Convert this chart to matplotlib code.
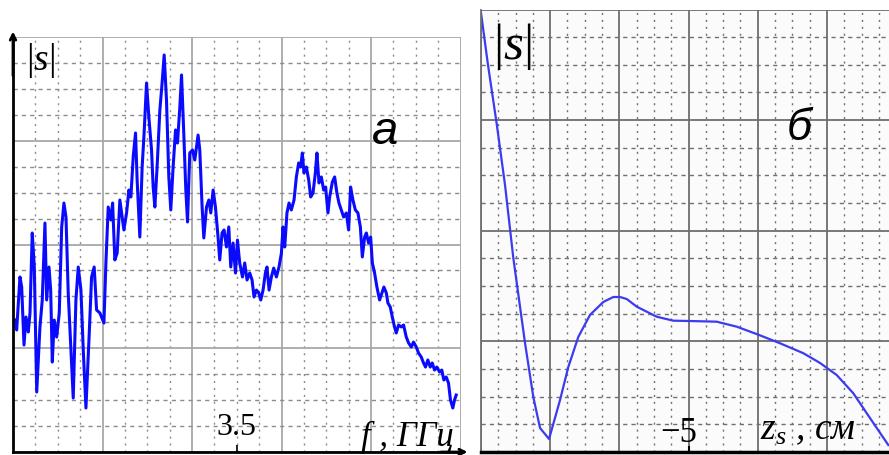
import matplotlib
matplotlib.use("Agg")
import matplotlib.pyplot as plt
from matplotlib.ticker import MultipleLocator

plt.rcParams['font.family'] = ['Liberation Serif', 'DejaVu Serif']
plt.rcParams['mathtext.fontset'] = 'custom'
plt.rcParams['mathtext.rm'] = 'Liberation Serif'
plt.rcParams['mathtext.it'] = 'Liberation Serif:italic'

# panel a: spectrum |s|(f), f in GHz
freq = [1.022, 1.041, 1.078, 1.097, 1.123, 1.145, 1.171, 1.190, 1.215, 1.238,
        1.265, 1.301, 1.327, 1.357, 1.376, 1.402, 1.421, 1.439, 1.461, 1.488,
        1.517, 1.544, 1.569, 1.592, 1.617, 1.647, 1.673, 1.703, 1.729, 1.759,
        1.785, 1.815, 1.852, 1.878, 1.907, 1.934, 1.971, 2.016, 2.038, 2.064,
        2.094, 2.113, 2.138, 2.164, 2.194, 2.220, 2.239, 2.269, 2.295, 2.317,
        2.343, 2.369, 2.387, 2.417, 2.443, 2.465, 2.492, 2.518, 2.548, 2.566,
        2.585, 2.610, 2.641, 2.666, 2.689, 2.715, 2.741, 2.763, 2.789, 2.816,
        2.838, 2.864, 2.883, 2.908, 2.931, 2.950, 2.975, 3.006, 3.031, 3.068,
        3.087, 3.113, 3.132, 3.162, 3.188, 3.210, 3.236, 3.262, 3.291, 3.310,
        3.336, 3.358, 3.385, 3.411, 3.433, 3.459, 3.486, 3.508, 3.533, 3.564,
        3.589, 3.615, 3.645, 3.671, 3.693, 3.720, 3.746, 3.768, 3.794, 3.820,
        3.838, 3.861, 3.887, 3.913, 3.943, 3.972, 3.999, 4.017, 4.036, 4.061,
        4.084, 4.110, 4.140, 4.166, 4.192, 4.214, 4.233, 4.251, 4.278, 4.304,
        4.326, 4.352, 4.378, 4.396, 4.419, 4.445, 4.471, 4.493, 4.519, 4.538,
        4.568, 4.594, 4.619, 4.642, 4.668, 4.694, 4.724, 4.750, 4.772, 4.798,
        4.825, 4.854, 4.881, 4.903, 4.929, 4.948, 4.973, 4.996, 5.015, 5.040,
        5.066, 5.096, 5.122, 5.144, 5.171, 5.189, 5.215, 5.238, 5.263, 5.282,
        5.308, 5.338, 5.364, 5.394, 5.420, 5.450, 5.475, 5.506, 5.531, 5.561,
        5.587, 5.609, 5.635, 5.662, 5.684, 5.710, 5.736, 5.766, 5.791, 5.814,
        5.840, 5.866, 5.888, 5.914, 5.933, 5.952]
amp_f = [1.272, 1.176, 1.687, 1.590, 1.031, 1.301, 1.157, 1.340, 2.111, 1.783,
         0.578, 1.205, 1.465, 2.207, 1.465, 1.783, 1.561, 0.867, 1.272, 1.108,
         1.340, 2.169, 2.400, 2.265, 1.533, 0.983, 0.520, 1.465, 1.783, 1.561,
         0.983, 0.424, 1.147, 1.687, 1.783, 1.369, 1.340, 1.243, 1.822, 2.361,
         2.236, 2.400, 1.851, 1.918, 2.429, 2.265, 2.140, 2.304, 2.525, 2.458,
         2.843, 3.075, 2.622, 2.072, 2.747, 3.075, 3.557, 3.229, 2.911, 2.554,
         2.361, 2.747, 3.296, 3.557, 3.827, 3.393, 2.651, 2.333, 2.747, 3.104,
         2.978, 3.325, 3.634, 3.075, 2.525, 2.217, 2.882, 2.911, 2.814, 3.055,
         2.911, 2.361, 2.063, 2.361, 2.429, 2.304, 2.525, 2.361, 2.072, 1.851,
         2.111, 2.140, 1.976, 2.169, 1.783, 2.014, 1.725, 2.043, 1.822, 1.687,
         1.822, 1.658, 1.725, 1.658, 1.494, 1.561, 1.533, 1.465, 1.561, 1.725,
         1.783, 1.561, 1.687, 1.773, 1.687, 1.783, 1.918, 2.169, 1.976, 2.304,
         2.400, 2.333, 2.429, 2.651, 2.786, 2.747, 2.882, 2.689, 2.747, 2.622,
         2.458, 2.496, 2.689, 2.882, 2.593, 2.651, 2.525, 2.554, 2.304, 2.458,
         2.602, 2.651, 2.496, 2.400, 2.333, 2.265, 2.304, 2.140, 2.554, 2.429,
         2.333, 2.304, 2.169, 1.880, 2.072, 2.111, 2.014, 2.072, 1.822, 1.725,
         1.590, 1.465, 1.533, 1.590, 1.533, 1.436, 1.398, 1.301, 1.205, 1.147,
         1.224, 1.205, 1.224, 1.108, 1.051, 1.012, 1.060, 1.012, 0.954, 0.916,
         0.858, 0.819, 0.887, 0.819, 0.858, 0.790, 0.819, 0.771, 0.790, 0.694,
         0.723, 0.665, 0.501, 0.424, 0.501, 0.549]
f_tick = [3.5]
f_tick_labels = ['3.5']

# panel б: |s|(z_s), z_s in cm
z_s = [-8.000, -7.899, -7.773, -7.653, -7.533, -7.364, -7.244, -7.147, -7.017,
       -6.931, -6.858, -6.738, -6.594, -6.425, -6.233, -6.088, -5.991, -5.894,
       -5.750, -5.461, -5.221, -4.980, -4.594, -4.305, -4.007, -3.679, -3.342,
       -3.101, -2.860, -2.620, -2.379, -2.114]
amp_z = [3.969, 3.499, 2.966, 2.414, 1.754, 0.986, 0.497, 0.217, 0.118,
         0.307, 0.470, 0.769, 1.040, 1.239, 1.356, 1.401, 1.401, 1.383,
         1.314, 1.223, 1.187, 1.184, 1.178, 1.133, 1.064, 0.983, 0.893,
         0.805, 0.696, 0.531, 0.307, 0.063]
z_tick = [-5]
z_tick_labels = ['\u22125']


def grid_style(ax, major_color, minor_color):
    ax.xaxis.set_major_locator(MultipleLocator(1))
    ax.yaxis.set_major_locator(MultipleLocator(1))
    ax.xaxis.set_minor_locator(MultipleLocator(0.25))
    ax.yaxis.set_minor_locator(MultipleLocator(0.25))
    ax.grid(which='major', color=major_color, lw=1.3)
    ax.xaxis.grid(which='minor', color=minor_color, lw=1.0, linestyle=(0, (1.5, 3.5)))
    ax.yaxis.grid(which='minor', color=minor_color, lw=1.0, linestyle=(0, (3, 3)))
    ax.tick_params(which='both', length=0, labelbottom=False, labelleft=False)
    ax.set_axisbelow(True)
    for s in ['top', 'right']:
        ax.spines[s].set_visible(False)


fig = plt.figure(figsize=(8.89, 4.55), dpi=100)

# ---- panel a
ax1 = fig.add_axes([13 / 889, 3 / 455, 447.5 / 889, 415 / 455])
ax1.plot(freq, amp_f, color='#0a0aff', lw=2.2)
ax1.set_xlim(1, 6)
ax1.set_ylim(0, 4)
grid_style(ax1, '#a8a8a8', '#8c8c8c')
ax1.spines['left'].set_linewidth(2)
ax1.spines['bottom'].set_linewidth(2)
ax1.annotate('', xy=(0, 1.02), xytext=(0, 0.9), xycoords='axes fraction',
             arrowprops=dict(arrowstyle='->', lw=2, color='black'))
ax1.annotate('', xy=(1.022, 0), xytext=(0.95, 0), xycoords='axes fraction',
             arrowprops=dict(arrowstyle='->', lw=2, color='black'))
ax1.vlines(f_tick, 0, 0.07, color='black', lw=1.2)
for t, lab in zip(f_tick, f_tick_labels):
    ax1.text(t, 0.165, lab, ha='center', va='baseline', fontsize=23)
ax1.text(4.89, 0.06, 'f , ГГц', ha='left', va='baseline', fontsize=25,
         style='italic', clip_on=False)
ax1.text(1.307, 3.77, r'$|s|$', ha='center', va='center', fontsize=27)
ax1.text(0.832, 0.77, 'а', transform=ax1.transAxes, ha='center', va='center',
         fontsize=34, style='italic', family='Liberation Sans')

# ---- panel б
ax2 = fig.add_axes([481 / 889, 3 / 455, 408 / 889, 442.5 / 455])
ax2.set_facecolor('#fbfbfb')
ax2.plot(z_s, amp_z, color='#3b3bf0', lw=1.6)
ax2.set_xlim(-8, -8 + 408 / 69.2)
ax2.set_ylim(0, 4)
grid_style(ax2, '#6e6e6e', '#707070')
ax2.spines['left'].set_color('#6e6e6e')
ax2.spines['left'].set_linewidth(1.3)
ax2.spines['bottom'].set_linewidth(2.5)
ax2.vlines(z_tick, 0, 0.05, color='black', lw=1.5)
for t, lab in zip(z_tick, z_tick_labels):
    ax2.text(t + 0.13, 0.09, lab, ha='right', va='baseline', fontsize=25)
ax2.text(-3.97, 0.12, r'$z_{s}$ , см', ha='left', va='baseline', fontsize=27,
         style='italic')
ax2.text(-7.545, 3.662, r'$|s|$', ha='center', va='center', fontsize=37)
ax2.text(0.78, 0.73, 'б', transform=ax2.transAxes, ha='center', va='center',
         fontsize=32, style='italic', family='Liberation Sans')

fig.savefig('out.png', dpi=100)
